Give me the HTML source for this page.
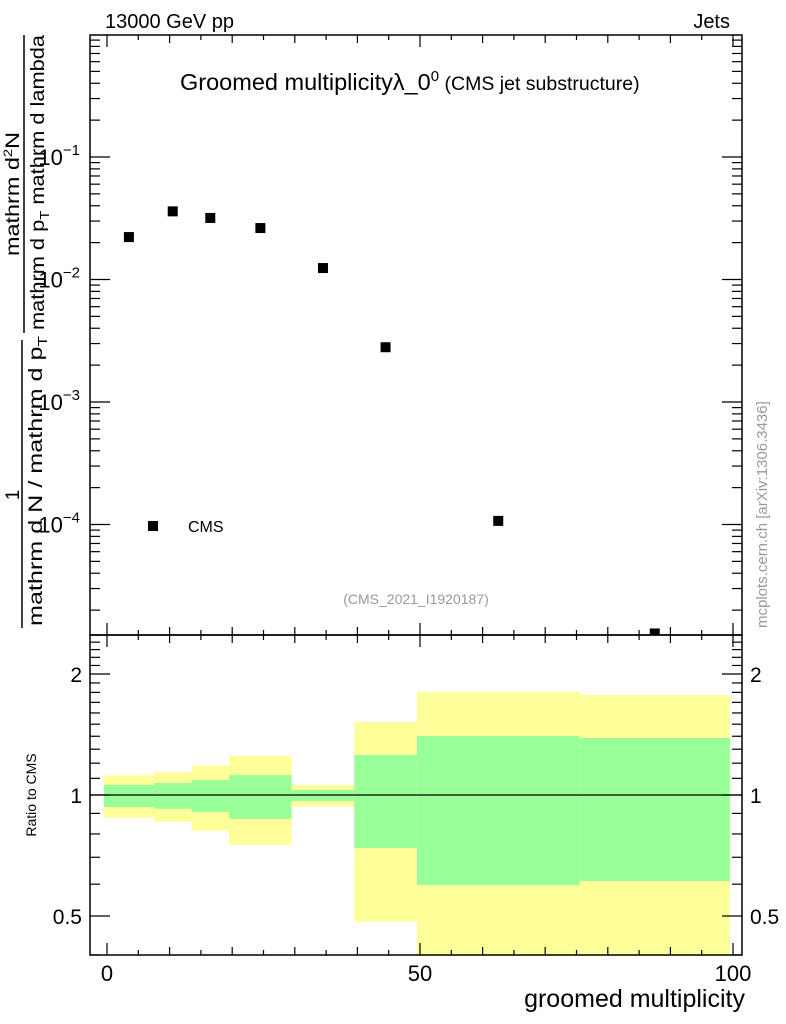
<!DOCTYPE html>
<html><head><meta charset="utf-8"><style>
body{margin:0;background:#fff}
svg{display:block;font-family:"Liberation Sans",sans-serif}
</style></head><body>
<svg id="chart" width="786" height="1024" xmlns="http://www.w3.org/2000/svg">
<g id="bands"></g>
<g id="marks"></g>
<g id="axes"></g>
<text x="105" y="28" font-size="20">13000 GeV pp</text>
<text x="730" y="28" font-size="20" text-anchor="end">Jets</text>
<text x="180" y="90" font-size="23.5">Groomed multiplicityλ_0<tspan dy="-9" font-size="15">0</tspan><tspan dy="9" font-size="19.5"> (CMS jet substructure)</tspan></text>
<text x="416" y="604" font-size="14" fill="#999" text-anchor="middle">(CMS_2021_I1920187)</text>
<text transform="translate(767,628) rotate(-90)" font-size="15" fill="#999">mcplots.cern.ch [arXiv:1306.3436]</text>
<rect x="148" y="521" width="10" height="10" fill="#000"/>
<text x="188" y="532" font-size="16">CMS</text>
<g font-size="19">
<text transform="translate(19,495) rotate(-90)" text-anchor="middle">1</text>
<line x1="22" y1="628" x2="22" y2="340" stroke="#000" stroke-width="1.5"/>
<text transform="translate(42,626) rotate(-90)" textLength="290" lengthAdjust="spacingAndGlyphs">mathrm d N / mathrm d p<tspan font-size="13" dy="5">T</tspan></text>
<text transform="translate(19,256) rotate(-90)" textLength="124" lengthAdjust="spacingAndGlyphs">mathrm d<tspan font-size="12" dy="-7">2</tspan><tspan dy="7">N</tspan></text>
<line x1="24" y1="333" x2="24" y2="35" stroke="#000" stroke-width="1.5"/>
<text transform="translate(44,330) rotate(-90)" textLength="295" lengthAdjust="spacingAndGlyphs">mathrm d p<tspan font-size="13" dy="5">T</tspan><tspan dy="-5"> mathrm d lambda</tspan></text>
</g>
<text transform="translate(36,795) rotate(-90)" font-size="14" text-anchor="middle">Ratio to CMS</text>
<text x="745" y="1007" font-size="25" text-anchor="end">groomed multiplicity</text>
</svg>
<script>
const binEdges=[-0.5,7.5,13.5,19.5,29.5,39.5,49.5,75.5,99.5];
const xCenters=[3.5,10.5,16.5,24.5,34.5,44.5,62.5,87.5];
const yValues=[0.0222,0.036,0.0318,0.0263,0.0124,0.0028,0.000107,0.0000129];
const yellowHi=[1.119,1.139,1.183,1.25,1.059,1.519,1.807,1.773];
const yellowLo=[0.878,0.858,0.815,0.751,0.937,0.484,0.3,0.3];
const greenHi=[1.059,1.071,1.09,1.121,1.029,1.257,1.402,1.386];
const greenLo=[0.934,0.924,0.907,0.872,0.966,0.738,0.597,0.611];
const xTicks=[0,50,100];
const yDecades=[-1,-2,-3,-4];
const ratioTicks=[0.5,1,2];
const NS="http://www.w3.org/2000/svg";
const L=90,R=742,T=35,MB=635,RB=955;
const X=v=>107+6.26*v;
const Y=v=>157-122.5*(Math.log10(v)+1);
const YR=r=>795-402*Math.log10(r);
const clipR=y=>Math.max(MB,Math.min(RB,y));
function mk(tag,attrs,parent){const e=document.createElementNS(NS,tag);for(const k in attrs)e.setAttribute(k,attrs[k]);parent.appendChild(e);return e;}
const bands=document.getElementById('bands'),marks=document.getElementById('marks'),axes=document.getElementById('axes');
for(let i=0;i<xCenters.length;i++){
  const x0=Math.max(L,X(binEdges[i])),x1=Math.min(R,X(binEdges[i+1]));
  let y0=clipR(YR(yellowHi[i])),y1=clipR(YR(yellowLo[i]));
  const yb=mk('rect',{x:x0,y:y0,width:x1-x0,height:y1-y0,fill:'#ffff99'},bands);
  
  
  y0=clipR(YR(greenHi[i]));y1=clipR(YR(greenLo[i]));
  const gb=mk('rect',{x:x0,y:y0,width:x1-x0,height:y1-y0,fill:'#99ff99'},bands);
  
  
  const cy=Math.min(Y(yValues[i]),MB);
  const p=mk('rect',{x:X(xCenters[i])-5,y:cy-5,width:10,height:Math.min(10,MB-(cy-5)),fill:'#000'},marks);
  
  
}
const one=mk('line',{x1:L,x2:R,y1:YR(1),y2:YR(1),stroke:'#000','stroke-width':1.2},axes);


mk('rect',{x:L,y:T,width:R-L,height:MB-T,fill:'none',stroke:'#000','stroke-width':1.5},axes);
mk('rect',{x:L,y:MB,width:R-L,height:RB-MB,fill:'none',stroke:'#000','stroke-width':1.5},axes);
function ln(a,b,c,d){mk('line',{x1:a,y1:b,x2:c,y2:d,stroke:'#000','stroke-width':1.2},axes);}
for(let v=0;v<=100;v+=5){
  const x=X(v);const len=v%50==0?12:(v%10==0?8:5);
  [[T,1],[MB,-1],[MB,1],[RB,-1]].forEach(([y,d])=>ln(x,y,x,y+d*len));
}
xTicks.forEach(v=>{const t=mk('text',{x:X(v),y:981,'font-size':22,'text-anchor':'middle'},axes);t.textContent=v;

});
for(let d=-5;d<=0;d++){for(let m=1;m<10;m++){const y=Y(m*Math.pow(10,d));if(y<T||y>MB)continue;
const len=m==1?20:10;ln(L,y,L+len,y);ln(R,y,R-len,y);}}
yDecades.forEach(d=>{const t=mk('text',{x:80,y:Y(Math.pow(10,d))+8,'font-size':22,'text-anchor':'end'},axes);
t.textContent='10';
const s=mk('tspan',{dy:-10,'font-size':15},t);s.textContent='\u2212'+Math.abs(d);

});
[0.4,0.5,0.6,0.7,0.8,0.9,1,1.1,1.2,1.3,1.4,1.5,1.6,1.7,1.8,1.9,2,2.1,2.2,2.3,2.4,2.5].forEach(r=>{const y=YR(r);if(y<MB||y>RB)return;
const len=ratioTicks.includes(r)?20:10;ln(L,y,L+len,y);ln(R,y,R-len,y);});
ratioTicks.forEach(r=>{[[82,'end'],[750,'start']].forEach(([x,a])=>{const t=mk('text',{x:x,y:YR(r)+8,'font-size':21,'text-anchor':a},axes);t.textContent=r;

});});
</script>
</body></html>
